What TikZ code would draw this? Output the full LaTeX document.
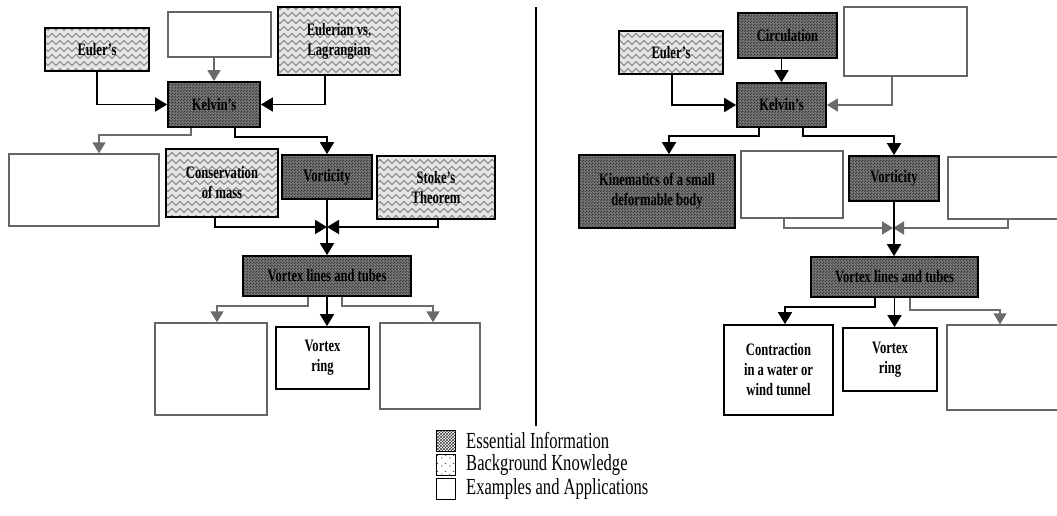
\documentclass[tikz,border=0pt]{standalone}
\usepackage{fontspec}
\setmainfont{Liberation Serif}[FakeStretch=0.72]
\usetikzlibrary{arrows.meta,patterns}

% chevron texture for background-knowledge boxes
\pgfdeclarepatternformonly{zigzag}{\pgfqpoint{-1pt}{-1pt}}{\pgfqpoint{9pt}{8pt}}{\pgfqpoint{8pt}{7pt}}{%
  \pgfsetlinewidth{1pt}%
  \pgfpathmoveto{\pgfqpoint{0pt}{1.5pt}}%
  \pgfpathlineto{\pgfqpoint{4pt}{5.5pt}}%
  \pgfpathlineto{\pgfqpoint{8pt}{1.5pt}}%
  \pgfusepath{stroke}%
}
% fine checker texture for essential boxes
\pgfdeclarepatternformonly{checker}{\pgfpointorigin}{\pgfqpoint{3pt}{3pt}}{\pgfqpoint{3pt}{3pt}}{%
  \pgfpathrectangle{\pgfpointorigin}{\pgfqpoint{1.5pt}{1.5pt}}%
  \pgfpathrectangle{\pgfqpoint{1.5pt}{1.5pt}}{\pgfqpoint{1.5pt}{1.5pt}}%
  \pgfusepath{fill}%
}
% sparse speckles for the legend
\pgfdeclarepatternformonly{speckles}{\pgfpointorigin}{\pgfqpoint{8pt}{8pt}}{\pgfqpoint{8pt}{8pt}}{%
  \pgfpathcircle{\pgfqpoint{2pt}{2pt}}{0.7pt}%
  \pgfpathcircle{\pgfqpoint{6pt}{5pt}}{0.7pt}%
  \pgfusepath{fill}%
}

\newcommand\cmboxfont{\bfseries\fontsize{17.5}{20}\selectfont}
\newcommand\cmlegfont{\fontsize{23}{24}\selectfont}

\tikzset{
  box/.style={draw, line width=1.7pt, align=center, inner sep=2pt, font=\cmboxfont},
  ess/.style={box, preaction={fill=black!52}, preaction={pattern=checker, pattern color=black!78}},
  bgk/.style={box, preaction={fill=black!10}, preaction={pattern=zigzag, pattern color=black!50}},
  exa/.style={box, fill=white},
  blank/.style={draw=black!60, line width=1.4pt, fill=white},
  link/.style={line width=1.7pt, -{Triangle[width=14pt,length=12pt]}},
  glink/.style={draw=black!58, line width=1.6pt, -{Triangle[width=13pt,length=11pt]}},
  legbox/.style={draw, line width=1pt, minimum width=19pt, minimum height=21pt, inner sep=0pt},
  legtext/.style={anchor=west, font=\cmlegfont, inner sep=0pt}
}

\begin{document}
\begin{tikzpicture}[x=1pt,y=-1pt]
\useasboundingbox (0,0) rectangle (1057,515);

% ---------------- left map ----------------
\node[bgk, minimum width=104pt, minimum height=43pt] (eulerL) at (97,49.5) {Euler's};
\node[blank, minimum width=103pt, minimum height=45pt] (topL) at (219.5,34.5) {};
\node[bgk, minimum width=122pt, minimum height=68pt] (eulagL) at (339,41) {Eulerian vs.\\Lagrangian};
\node[ess, minimum width=92pt, minimum height=45pt] (kelL) at (214,104.5) {Kelvin's};

\node[blank, minimum width=150pt, minimum height=72pt] (exL1) at (84,190) {};
\node[bgk, minimum width=112pt, minimum height=68pt] (consL) at (222,183) {Conservation\\of mass};
\node[ess, minimum width=90pt, minimum height=44pt] (vortL) at (327,177) {Vorticity};
\node[bgk, minimum width=118pt, minimum height=63pt] (stokeL) at (436,187.5) {Stoke's\\Theorem};
\coordinate (mL) at (327,227);

\node[ess, minimum width=168pt, minimum height=40pt] (vlL) at (327,276) {Vortex lines and tubes};
\node[blank, minimum width=112pt, minimum height=92pt] (exL2) at (211,369) {};
\node[exa, minimum width=93pt, minimum height=62pt] (ringL) at (322.5,358) {Vortex\\ring};
\node[blank, minimum width=100pt, minimum height=86pt] (exL3) at (430,366) {};

\draw[link] (eulerL.south) |- (kelL.west);
\draw[link] ([xshift=-14pt]eulagL.south) |- (kelL.east);
\draw[glink] (topL.south -| kelL.north) -- (kelL.north);
\draw[glink] ([xshift=-23pt]kelL.south) -- ++(0,-7pt) -| ([xshift=15pt]exL1.north);
\draw[link] ([xshift=21pt]kelL.south) -- ++(0,-9pt) -| (vortL.north);
\draw[link] ([xshift=-7pt]consL.south) |- (mL);
\draw[link] ([xshift=2pt]stokeL.south) |- (mL);
\draw[link] (vortL.south) -- (vlL.north);
\draw[glink] ([xshift=-19pt]vlL.south) -- ++(0,-9pt) -| ([xshift=6pt]exL2.north);
\draw[link] (vlL.south) -- (vlL.south |- ringL.north);
\draw[glink] ([xshift=15pt]vlL.south) -- ++(0,-9pt) -| ([xshift=3pt]exL3.north);

% ---------------- divider ----------------
\coordinate (divtop) at (536,7);
\coordinate (divbot) at (536,426);
\draw[line width=1.4pt] (divtop) -- (divbot);

% ---------------- right map ----------------
\node[bgk, minimum width=104pt, minimum height=43pt] (eulerR) at (671,52.5) {Euler's};
\node[ess, minimum width=99pt, minimum height=45pt] (circR) at (787.5,35.5) {Circulation};
\node[blank, minimum width=123pt, minimum height=69pt] (topR) at (905.5,41.5) {};
\node[ess, minimum width=89pt, minimum height=44pt] (kelR) at (781.5,105) {Kelvin's};

\node[ess, minimum width=156pt, minimum height=73pt] (kinR) at (657,191.5) {Kinematics of a small\\deformable body};
\node[blank, minimum width=102pt, minimum height=67pt] (exR1) at (792,184.5) {};
\node[ess, minimum width=90pt, minimum height=45pt] (vortR) at (894,178.5) {Vorticity};
\node[blank, minimum width=117pt, minimum height=62pt] (exR2) at (1006.5,188) {};
\coordinate (mR) at (893,228);

\node[ess, minimum width=167pt, minimum height=40pt] (vlR) at (894.5,277) {Vortex lines and tubes};
\node[exa, minimum width=109pt, minimum height=90pt] (contR) at (778.5,370) {Contraction\\in a water or\\wind tunnel};
\node[exa, minimum width=94pt, minimum height=63pt] (ringR) at (890,359.5) {Vortex\\ring};
\node[blank, minimum width=123pt, minimum height=85pt] (exR3) at (1008.5,367.5) {};

\draw[link] ([xshift=1pt]eulerR.south) |- (kelR.west);
\draw[link] (circR.south -| kelR.north) -- (kelR.north);
\draw[glink] ([xshift=-13.5pt]topR.south) |- (kelR.east);
\draw[link] ([xshift=-22.5pt]kelR.south) -- ++(0,-8pt) -| ([xshift=12pt]kinR.north);
\draw[link] ([xshift=21.5pt]kelR.south) -- ++(0,-8pt) -| (vortR.north);
\draw[glink] ([xshift=-8pt]exR1.south) |- (mR);
\draw[glink] ([xshift=1.5pt]exR2.south) |- (mR);
\draw[link] (vortR.south) -- (vortR.south |- vlR.north);
\draw[link] ([xshift=-19.5pt]vlR.south) -- ++(0,-9pt) -| ([xshift=6.5pt]contR.north);
\draw[link] (vlR.south) -- (vlR.south |- ringR.north);
\draw[glink] ([xshift=15.5pt]vlR.south) -- ++(0,-12pt) -| ([xshift=-8.5pt]exR3.north);

% ---------------- legend ----------------
\node[legbox, pattern=crosshatch, pattern color=black!75] (lg1) at (446,441) {};
\node[legbox, pattern=speckles, pattern color=black!70] (lg2) at (446,465) {};
\node[legbox, fill=white] (lg3) at (446,489) {};
\node[legtext] (lt1) at ([xshift=10pt]lg1.east) {Essential Information};
\node[legtext] (lt2) at ([xshift=10pt]lg2.east) {Background Knowledge};
\node[legtext] (lt3) at ([xshift=10pt]lg3.east) {Examples and Applications};
\end{tikzpicture}
\end{document}
